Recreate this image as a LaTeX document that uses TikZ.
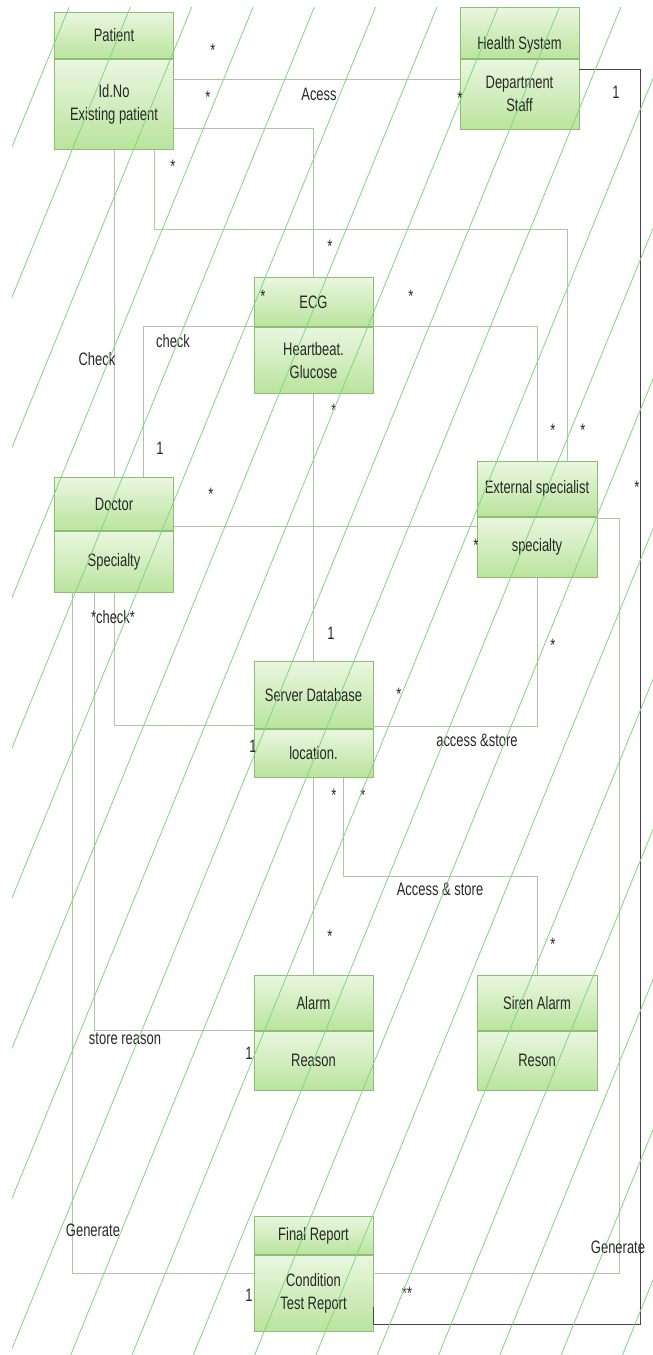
\documentclass[tikz,border=0pt]{standalone}
\usepackage{fontspec}
\setmainfont{Liberation Sans}[FakeStretch=0.72]
\usepackage{tikz}
\usetikzlibrary{positioning,shadings}

\definecolor{boxline}{RGB}{140,190,115}
\definecolor{boxtop}{RGB}{234,246,224}
\definecolor{boxbot}{RGB}{186,228,158}
\definecolor{linkgray}{RGB}{172,200,160}
\definecolor{sysgray}{RGB}{70,70,70}
\definecolor{hatchgreen}{RGB}{125,215,125}
\definecolor{txt}{RGB}{40,40,40}

\begin{document}
\begin{tikzpicture}[
  x=1pt, y=-1pt,
  font=\fontsize{18}{23}\selectfont,
  hdr/.style={draw=boxline, line width=0.8pt, top color=boxtop, bottom color=boxbot,
              minimum width=119pt, inner sep=0pt, align=center, text=txt, anchor=north},
  body/.style={hdr, below=0pt of #1},
  link/.style={linkgray, line width=0.9pt},
  sysline/.style={sysgray, line width=1.1pt},
  mult/.style={inner sep=0pt, text=txt},
  hatchline/.style={hatchgreen, line width=0.8pt},
]
  \useasboundingbox (0,0) rectangle (653,1355);

  % classes: header + attribute part
  \node[hdr, minimum height=46pt] (patient) at (114,12) {Patient};
  \node[body=patient, minimum height=90pt] (patient-b) {Id.No\\Existing patient};

  \node[hdr, minimum height=51pt] (hs) at (519.5,7) {\raisebox{-17pt}[0pt][0pt]{Health System}};
  \node[body=hs, minimum height=70pt] (hs-b) {Department\\Staff};

  \node[hdr, minimum height=49pt] (ecg) at (313.5,277) {ECG};
  \node[body=ecg, minimum height=66pt] (ecg-b) {Heartbeat.\\Glucose};

  \node[hdr, minimum height=53pt] (doctor) at (114,477) {Doctor};
  \node[body=doctor, minimum height=61pt] (doctor-b) {Specialty};

  \node[hdr, minimum height=55pt, minimum width=120pt] (ext) at (537,461) {External specialist};
  \node[body=ext, minimum height=60pt, minimum width=120pt] (ext-b) {specialty};

  \node[hdr, minimum height=67pt] (srv) at (313.5,661) {Server Database};
  \node[body=srv, minimum height=48pt] (srv-b) {location.};

  \node[hdr, minimum height=55pt] (alarm) at (313.5,975) {Alarm};
  \node[body=alarm, minimum height=59pt] (alarm-b) {Reason};

  \node[hdr, minimum height=55pt, minimum width=120pt] (siren) at (537,975) {Siren Alarm};
  \node[body=siren, minimum height=59pt, minimum width=120pt] (siren-b) {Reson};

  \node[hdr, minimum height=38pt] (fr) at (313.5,1216) {Final Report};
  \node[body=fr, minimum height=76pt] (fr-b) {Condition\\Test Report};

  % associations
  \draw[link] ([yshift=-21pt]patient-b.north east) -- ([yshift=-21pt]hs-b.north west);
  \draw[link] ([yshift=21pt]patient-b.south east) -| (ecg.north);
  \draw[link] ([xshift=40pt]patient-b.south) -- ++(0,80) -| ([xshift=-30pt]ext.north east);
  \draw[link] (patient-b.south) -- (doctor.north);
  \draw[link] (ecg-b.north west) -| ([xshift=-30pt]doctor.north east);
  \draw[link] (ecg-b.north east) -| (ext.north);
  \draw[link] (ecg-b.south) -- (srv.north);
  \coordinate (dr-ext) at ([yshift=4pt]doctor-b.north east);
  \draw[link] (dr-ext) -- (dr-ext -| ext-b.west);
  \draw[link] ([xshift=-20pt]doctor-b.south) |- (alarm-b.north west);
  \draw[link] ([xshift=-42pt]doctor-b.south) |- ([yshift=-19pt]fr-b.north west);
  \draw[link] (doctor-b.south) |- ([yshift=3pt]srv-b.north west);
  \draw[link] (ext-b.south) |- ([yshift=2pt]srv-b.north east);
  \draw[link] ([yshift=-2pt]ext-b.north east) -- ++(22,0) |- ([yshift=-19pt]fr-b.north east);
  \draw[link] (srv-b.south) -- (alarm.north);
  \draw[link] ([xshift=29.5pt]srv-b.south) -- ++(0,99) -| (siren.north);
  % health system to the report, darker line
  \draw[sysline] ([yshift=-11pt]hs-b.north east) -- ++(61,0) |- ([yshift=7pt]fr-b.south east) -- ++(0,-18);

  % role names and multiplicities
  \node[mult] (m-pat-hs1) at (213,50) {*};
  \node[mult] (m-pat-hs2) at (208,97) {*};
  \node[mult] (l-acess) at (319,94) {Acess};
  \node[mult] (m-hs-pat) at (460,98) {*};
  \node[mult] (m-hs-fr) at (616,92) {1};
  \node[mult] (m-pat-ext) at (173,166) {*};
  \node[mult] (m-ecg-pat) at (330,246) {*};
  \node[mult] (m-ecg-dr) at (263,296) {*};
  \node[mult] (l-check1) at (173,341) {check};
  \node[mult] (l-check2) at (97,359) {Check};
  \node[mult] (m-dr-ecg) at (160,448) {1};
  \node[mult] (m-ecg-ext) at (411,296) {*};
  \node[mult] (m-ecg-srv) at (334,410) {*};
  \node[mult] (m-ext-ecg) at (553,430) {*};
  \node[mult] (m-ext-pat) at (583,430) {*};
  \node[mult] (m-dr-ext) at (211,494) {*};
  \node[mult] (m-ext-dr) at (476,545) {*};
  \node[mult] (m-fr-hs) at (637,487) {*};
  \node[mult] (l-check3) at (113,617) {*check*};
  \node[mult] (m-srv-ecg) at (331,633) {1};
  \node[mult] (m-ext-srv) at (553,645) {*};
  \node[mult] (m-srv-ext) at (399,694) {*};
  \node[mult] (l-accstore1) at (477,740) {access \&store};
  \node[mult] (m-srv-dr) at (253,746) {1};
  \node[mult] (m-srv-al) at (334,795) {*};
  \node[mult] (m-srv-si) at (363,795) {*};
  \node[mult] (l-accstore2) at (440,889) {Access \& store};
  \node[mult] (m-al-srv) at (330,936) {*};
  \node[mult] (m-si-srv) at (553,944) {*};
  \node[mult] (l-reason) at (125,1039) {store reason};
  \node[mult] (m-al-dr) at (249,1053) {1};
  \node[mult] (l-gen1) at (93,1230) {Generate};
  \node[mult] (l-gen2) at (618,1247) {Generate};
  \node[mult] (m-fr-dr) at (249,1295) {1};
  \node[mult] (m-fr-ext) at (407,1293) {**};

  % diagonal green hatching over the whole sheet
  \begin{scope}
    \clip (12,7) rectangle (653,1355);
    \foreach \i in {0,...,18}
      \draw[hatchline] ({72+61.3*\i},0) -- ({72+61.3*\i-553},1355);
  \end{scope}
\end{tikzpicture}
\end{document}
